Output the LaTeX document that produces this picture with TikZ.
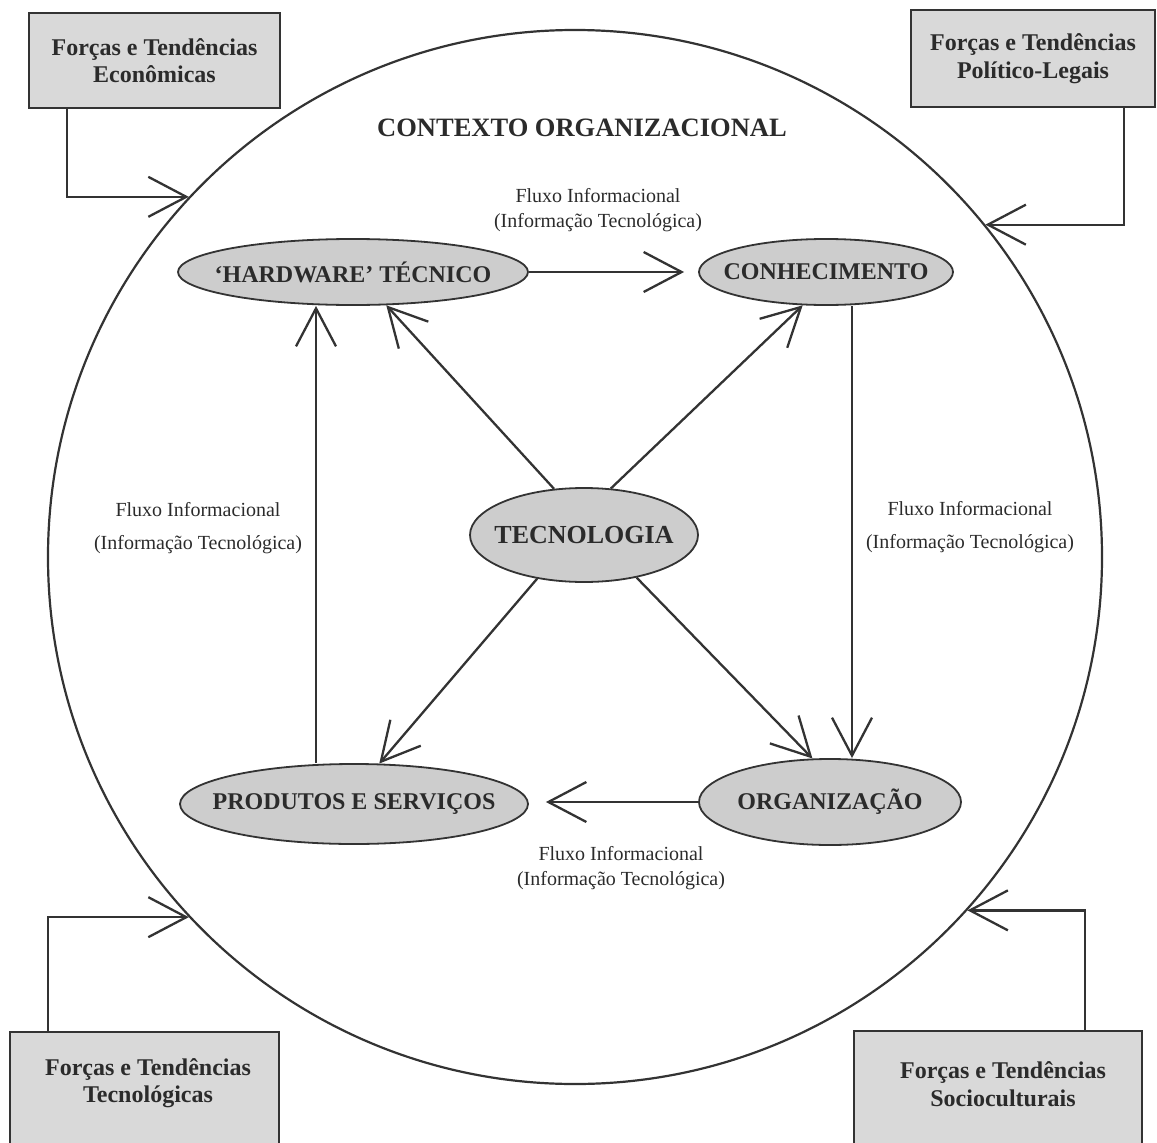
\documentclass[tikz,border=0pt]{standalone}
\usepackage{fontspec}
\setmainfont{Liberation Serif}
\usetikzlibrary{arrows.meta,shapes.geometric}

\definecolor{ink}{HTML}{333333}
\definecolor{txt}{HTML}{2B2B2B}
\definecolor{boxfill}{HTML}{D9D9D9}
\definecolor{ovalfill}{HTML}{CDCDCD}

\tikzset{
  flow/.style={draw=ink, line width=2.3pt, line join=miter,
    -{Straight Barb[length=38pt,width=40pt]}},
  oval/.style={ellipse, draw=ink, line width=1.8pt, fill=ovalfill, inner sep=0pt,
    text=txt, font=\fontsize{24}{28}\selectfont\bfseries},
  forcebox/.style={rectangle, draw=ink, line width=2.3pt, fill=boxfill, inner sep=0pt},
  forcetext/.style={align=center, text=txt, font=\fontsize{24}{27.5}\selectfont\bfseries},
  fluxnote/.style={align=center, text=txt, font=\fontsize{20}{25}\selectfont},
  fluxside/.style={align=center, text=txt, font=\fontsize{20}{33}\selectfont},
}

\begin{document}
\begin{tikzpicture}[x=1pt,y=-1pt]
\path[use as bounding box] (0,0) rectangle (1157,1143);
\clip (0,0) rectangle (1157,1143);

% organisational context
\node[circle, draw=ink, line width=2.2pt, minimum size=1054pt, inner sep=0pt] (ctx) at (575,557) {};
\node[text=txt, font=\fontsize{26.5}{30}\selectfont\bfseries] (title) at (582,128) {CONTEXTO ORGANIZACIONAL};

% external forces
\node[forcebox, forcetext, minimum width=251pt, minimum height=95pt] (eco) at (154.5,60.5) {Forças e Tendências\\Econômicas};
\node[forcebox, forcetext, minimum width=244pt, minimum height=97pt] (pol) at (1033,58.5) {Forças e Tendências\\Político-Legais};
\node[forcebox, anchor=north west, minimum width=269pt, minimum height=140pt] (tec) at (9,1031) {};
\node[forcetext] (tect) at (148,1083) {Forças e Tendências\\Tecnológicas};
\node[forcebox, anchor=north west, minimum width=288pt, minimum height=140pt] (soc) at (853,1030) {};
\node[forcetext] (soct) at (1003,1084) {Forças e Tendências\\Socioculturais};

% elements
\node[oval, minimum width=350pt, minimum height=66pt] (hw) at (353,272) {\makebox[0pt]{‘HARDWARE’ TÉCNICO}};
\node[oval, minimum width=254pt, minimum height=66pt] (con) at (826,272) {\makebox[0pt]{CONHECIMENTO}};
\node[oval, minimum width=228pt, minimum height=94pt, font=\fontsize{26}{30}\selectfont\bfseries] (tecn) at (584,535) {\makebox[0pt]{TECNOLOGIA}};
\node[oval, minimum width=348pt, minimum height=80pt] (ps) at (354,804) {\makebox[0pt]{PRODUTOS E SERVIÇOS}};
\node[oval, minimum width=262pt, minimum height=86pt] (org) at (830,802) {\makebox[0pt]{ORGANIZAÇÃO}};

% information flow labels
\node[fluxnote] (f1) at (598,210) {Fluxo Informacional\\(Informação Tecnológica)};
\node[fluxside] (f2) at (198,528) {Fluxo Informacional\\(Informação Tecnológica)};
\node[fluxside] (f3) at (970,527) {Fluxo Informacional\\(Informação Tecnológica)};
\node[fluxnote] (f4) at (621,868) {Fluxo Informacional\\(Informação Tecnológica)};

% flow cycle
\coordinate (vl) at (316,0);
\coordinate (vr) at (852,0);
\draw[flow, shorten >=14pt] (hw.east) -- (con.west);
\draw[flow] (con.south -| vr) -- (org.north -| vr);
\draw[flow, shorten >=17pt] (org.west) -- (ps.east |- org.west);
\draw[flow] (ps.north -| vl) -- (hw.south -| vl);

% technology at the centre
\draw[flow] (tecn.123) -- (hw.-45);
\draw[flow] (tecn.60) -- (con.-125);
\draw[flow] (tecn.223) -- (ps.58);
\draw[flow] (tecn.-39) -- (org.112);

% external forces acting on the context
\draw[flow] ([xshift=39pt]eco.south west) |- (ctx.137.8);
\draw[flow] ([xshift=-32pt]pol.south east) |- (ctx.39.5);
\draw[flow] ([xshift=39pt]tec.north west) |- (ctx.-137.4);
\draw[flow] ([xshift=-58pt]soc.north east) |- (ctx.-42.3);
\end{tikzpicture}
\end{document}
